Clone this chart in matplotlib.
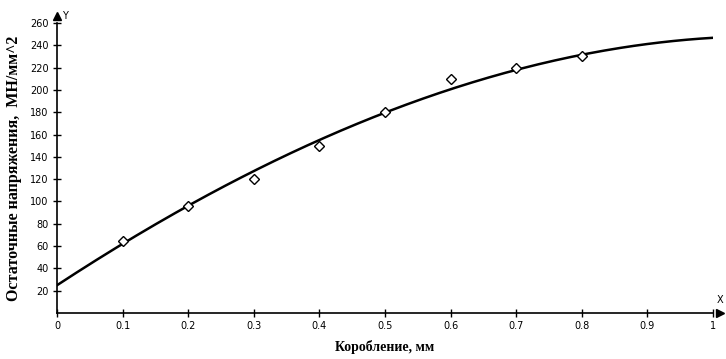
import matplotlib
matplotlib.use('Agg')
import matplotlib.pyplot as plt
import numpy as np

# данные
x_points = [0.1, 0.2, 0.3, 0.4, 0.5, 0.6, 0.7, 0.8]
y_points = [65, 96, 120, 150, 180, 210, 220, 230]

# сглаженная кривая (значения)
x_curve = [0, 0.1, 0.2, 0.3, 0.4, 0.5, 0.6, 0.7, 0.8, 0.9, 1.0]
y_curve = [25, 62, 96, 127, 155, 180, 201, 218, 231, 241, 247]

x_ticks = [0, 0.1, 0.2, 0.3, 0.4, 0.5, 0.6, 0.7, 0.8, 0.9, 1]
x_tick_labels = ['0', '0.1', '0.2', '0.3', '0.4', '0.5', '0.6', '0.7', '0.8', '0.9', '1']
y_ticks = list(range(20, 261, 20))

fig = plt.figure(figsize=(7.26, 3.59), dpi=100)
ax = fig.add_axes([57 / 726, 1 - 313 / 359, 656 / 726, 290 / 359])

# гладкая линия через точки кривой
coef = np.polyfit(x_curve, y_curve, 3)
xs = np.linspace(0, 1, 200)
ax.plot(xs, np.polyval(coef, xs), color='black', lw=1.8)
ax.plot(x_points, y_points, linestyle='none', marker='D', markersize=5,
        markerfacecolor='white', markeredgecolor='black', markeredgewidth=1)

ax.set_xlim(0, 1)
ax.set_ylim(0, 260)
ax.spines['top'].set_visible(False)
ax.spines['right'].set_visible(False)
ax.spines['left'].set_linewidth(1.2)
ax.spines['bottom'].set_linewidth(1.2)

ax.set_xticks(x_ticks)
ax.set_xticklabels(x_tick_labels)
ax.set_yticks(y_ticks)
ax.tick_params(direction='inout', length=6, width=1, labelsize=7, pad=3)

# стрелки осей
ax.plot(1.01, 0, marker='>', color='black', markersize=6,
        transform=ax.get_yaxis_transform(), clip_on=False)
ax.plot(0, 1.025, marker='^', color='black', markersize=6,
        transform=ax.get_xaxis_transform(), clip_on=False)
ax.text(1.006, 0.035, 'X', transform=ax.transAxes, fontsize=7)
ax.text(0.008, 1.015, 'Y', transform=ax.transAxes, fontsize=7)

ax.set_xlabel('Коробление, мм', family='Liberation Serif', fontweight='bold', fontsize=10, labelpad=6)
ax.set_ylabel('Остаточные напряжения,  МН/мм^2', family='Liberation Serif', fontweight='bold',
              fontsize=11.5, labelpad=6)

fig.savefig('out.png', dpi=100)
